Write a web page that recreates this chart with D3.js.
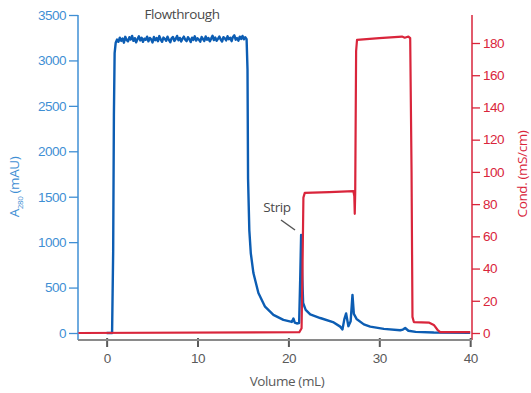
<!DOCTYPE html>
<html>
<head>
<meta charset="utf-8">
<script src="https://cdn.jsdelivr.net/npm/d3@7/dist/d3.min.js"></script>
<style>
  html, body { margin: 0; padding: 0; background: #fff; }
  svg { display: block; font-family: "Open Sans", "DejaVu Sans", sans-serif; }
</style>
</head>
<body>
<svg id="chart" width="531" height="393"></svg>
<script>
// Axis ticks
const volumeTicks = [0, 10, 20, 30, 40];
const a280Ticks = [0, 500, 1000, 1500, 2000, 2500, 3000, 3500];
const condTicks = [0, 20, 40, 60, 80, 100, 120, 140, 160, 180];

// UV absorbance trace: [volume (mL), A280 (mAU)]
const a280Trace = [
  [0, 0], [0.6, 0], [0.72, 900], [0.8, 2400], [0.88, 3080], [1.0, 3195],
  [1.15, 3230], [1.3, 3205], [1.45, 3250], [1.6, 3215], [1.75, 3240], [1.9, 3195],
  [2.05, 3260], [2.2, 3225], [2.35, 3210], [2.5, 3255], [2.65, 3230], [2.8, 3270],
  [2.95, 3215], [3.1, 3245], [3.25, 3200], [3.4, 3235], [3.55, 3265], [3.7, 3220],
  [3.85, 3250], [4.0, 3205], [4.15, 3240], [4.3, 3228], [4.45, 3262], [4.6, 3210],
  [4.75, 3248], [4.9, 3232], [5.05, 3198], [5.2, 3258], [5.35, 3222], [5.5, 3246],
  [5.65, 3212], [5.8, 3268], [5.95, 3230], [6.1, 3205], [6.25, 3252], [6.4, 3238],
  [6.55, 3216], [6.7, 3262], [6.85, 3226], [7.0, 3200], [7.15, 3244], [7.3, 3258],
  [7.45, 3214], [7.6, 3236], [7.75, 3270], [7.9, 3222], [8.05, 3248], [8.2, 3208],
  [8.35, 3240], [8.5, 3262], [8.65, 3228], [8.8, 3212], [8.95, 3256], [9.1, 3234],
  [9.25, 3202], [9.4, 3250], [9.55, 3226], [9.7, 3266], [9.85, 3218], [10.0, 3244],
  [10.15, 3230], [10.3, 3206], [10.45, 3258], [10.6, 3236], [10.75, 3214], [10.9, 3264],
  [11.05, 3228], [11.2, 3248], [11.35, 3210], [11.5, 3240], [11.65, 3272], [11.8, 3224],
  [11.95, 3252], [12.1, 3216], [12.25, 3238], [12.4, 3262], [12.55, 3230], [12.7, 3208],
  [12.85, 3256], [13.0, 3242], [13.15, 3220], [13.3, 3266], [13.45, 3234], [13.6, 3250],
  [13.75, 3212], [13.9, 3258], [14.05, 3276], [14.2, 3228], [14.35, 3246], [14.5, 3218],
  [14.65, 3262], [14.8, 3236], [14.95, 3270], [15.1, 3232], [15.25, 3256], [15.4, 3235],
  [15.5, 2900], [15.56, 1700], [15.7, 1130], [15.86, 880], [16.15, 660], [16.7, 440],
  [17.43, 290], [18.35, 200], [19.45, 145], [20.37, 122], [20.55, 160], [20.7, 115],
  [20.93, 105], [21.18, 110], [21.3, 600], [21.4, 1080], [21.5, 700], [21.62, 330],
  [21.9, 255], [22.4, 205], [23.5, 165], [24.9, 120], [25.7, 70], [25.95, 40],
  [26.15, 150], [26.35, 215], [26.6, 75], [26.85, 130], [27.05, 420], [27.2, 210],
  [27.5, 155], [28.3, 95], [29.0, 70], [30.5, 45], [32.3, 30], [32.6, 38],
  [32.85, 55], [33.2, 25], [34.0, 12], [36.0, 6], [40.0, 3]
];

// Conductivity trace: [volume (mL), conductivity (mS/cm)]
const condTrace = [
  [-3.1, 0], [21.2, 0.5], [21.45, 3], [21.55, 40], [21.65, 84], [21.8, 87],
  [24.5, 87.5], [27.15, 88], [27.25, 85], [27.3, 74], [27.35, 87], [27.45, 175],
  [27.55, 182], [30.0, 183], [32.5, 184], [32.8, 183.3], [33.2, 184], [33.4, 183],
  [33.55, 100], [33.65, 10], [33.8, 6.8], [35.5, 6.4], [36.0, 5], [36.4, 2],
  [36.7, 0.6], [40.0, 0.5]
];

const blueLine = "#0c5db3";
const blueAxis = "#3f8fd4";
const redLine = "#d9253b";
const grey = "#5a5a5a";

const svg = d3.select("#chart");

const x = d3.scaleLinear().domain([-3.15, 40.2]).range([78, 472]);
const yA = d3.scaleLinear().domain([0, 3500]).range([333, 15]);
const yC = d3.scaleLinear().domain([0, 180]).range([333, 43]);

const axisBottomY = 340;
const fmt = d3.format("d");

// Left axis (A280)
const gL = svg.append("g").attr("transform", "translate(78,0)")
  .call(d3.axisLeft(yA).tickValues(a280Ticks).tickFormat(fmt).tickSize(9).tickPadding(3).tickSizeOuter(0));
gL.select(".domain").remove();
gL.selectAll(".tick line").attr("stroke", blueAxis).attr("stroke-width", 1.3);
gL.selectAll(".tick text").attr("fill", blueAxis).style("font-size", "13.5px").style("letter-spacing", "-0.5px");
svg.append("line").attr("x1", 78).attr("x2", 78).attr("y1", 15).attr("y2", axisBottomY)
  .attr("stroke", blueAxis).attr("stroke-width", 1.5);

// Right axis (conductivity)
const gR = svg.append("g").attr("transform", "translate(472,0)")
  .call(d3.axisRight(yC).tickValues(condTicks).tickFormat(fmt).tickSize(8).tickPadding(3).tickSizeOuter(0));
gR.select(".domain").remove();
gR.selectAll(".tick line").attr("stroke", redLine).attr("stroke-width", 1.3);
gR.selectAll(".tick text").attr("fill", redLine).style("font-size", "13.5px").style("letter-spacing", "-0.5px");
svg.append("line").attr("x1", 472).attr("x2", 472).attr("y1", 15).attr("y2", axisBottomY)
  .attr("stroke", redLine).attr("stroke-width", 1.5);

// Bottom axis (volume)
const gB = svg.append("g").attr("transform", `translate(0,${axisBottomY})`)
  .call(d3.axisBottom(x).tickValues(volumeTicks).tickFormat(fmt).tickSize(7).tickPadding(6).tickSizeOuter(0));
gB.select(".domain").remove();
gB.selectAll(".tick line").attr("stroke", grey).attr("stroke-width", 2).attr("y1", -2);
gB.selectAll(".tick text").attr("fill", grey).style("font-size", "13.5px").style("letter-spacing", "-0.5px");
svg.append("line").attr("x1", 78).attr("x2", 472).attr("y1", axisBottomY).attr("y2", axisBottomY)
  .attr("stroke", "#8a8a8a").attr("stroke-width", 2);

// Traces
const lineA = d3.line().x(d => x(d[0])).y(d => yA(d[1]));
const lineC = d3.line().x(d => x(d[0])).y(d => yC(d[1]));

svg.append("path").datum(a280Trace).attr("d", lineA)
  .attr("fill", "none").attr("stroke", blueLine).attr("stroke-width", 2.4)
  .attr("stroke-linejoin", "round");
svg.append("path").datum(condTrace).attr("d", lineC)
  .attr("fill", "none").attr("stroke", redLine).attr("stroke-width", 2.2)
  .attr("stroke-linejoin", "round");

// Annotations
svg.append("text").attr("x", 182).attr("y", 19).attr("text-anchor", "middle")
  .attr("fill", "#4a4a4a").style("font-size", "13.5px").style("letter-spacing", "-0.4px")
  .text("Flowthrough");
svg.append("text").attr("x", 277).attr("y", 212).attr("text-anchor", "middle")
  .attr("fill", "#4a4a4a").style("font-size", "13.5px").style("letter-spacing", "-0.4px")
  .text("Strip");
svg.append("line").attr("x1", 281).attr("y1", 220).attr("x2", 295).attr("y2", 230)
  .attr("stroke", "#555").attr("stroke-width", 1.5);

// Axis titles
svg.append("text").attr("x", 287).attr("y", 386).attr("text-anchor", "middle")
  .attr("fill", grey).style("font-size", "13.5px").style("letter-spacing", "-0.4px")
  .text("Volume (mL)");

const tA = svg.append("text").attr("transform", "translate(19,187) rotate(-90)")
  .attr("text-anchor", "middle").attr("fill", blueAxis)
  .style("font-size", "13.5px").style("letter-spacing", "-0.4px");
tA.append("tspan").text("A");
tA.append("tspan").attr("dy", 4).style("font-size", "8px").text("280");
tA.append("tspan").attr("dy", -4).text(" (mAU)");

svg.append("text").attr("transform", "translate(527,174) rotate(-90)")
  .attr("text-anchor", "middle").attr("fill", redLine)
  .style("font-size", "13.5px").style("letter-spacing", "-0.4px")
  .text("Cond. (mS/cm)");
</script>
</body>
</html>
